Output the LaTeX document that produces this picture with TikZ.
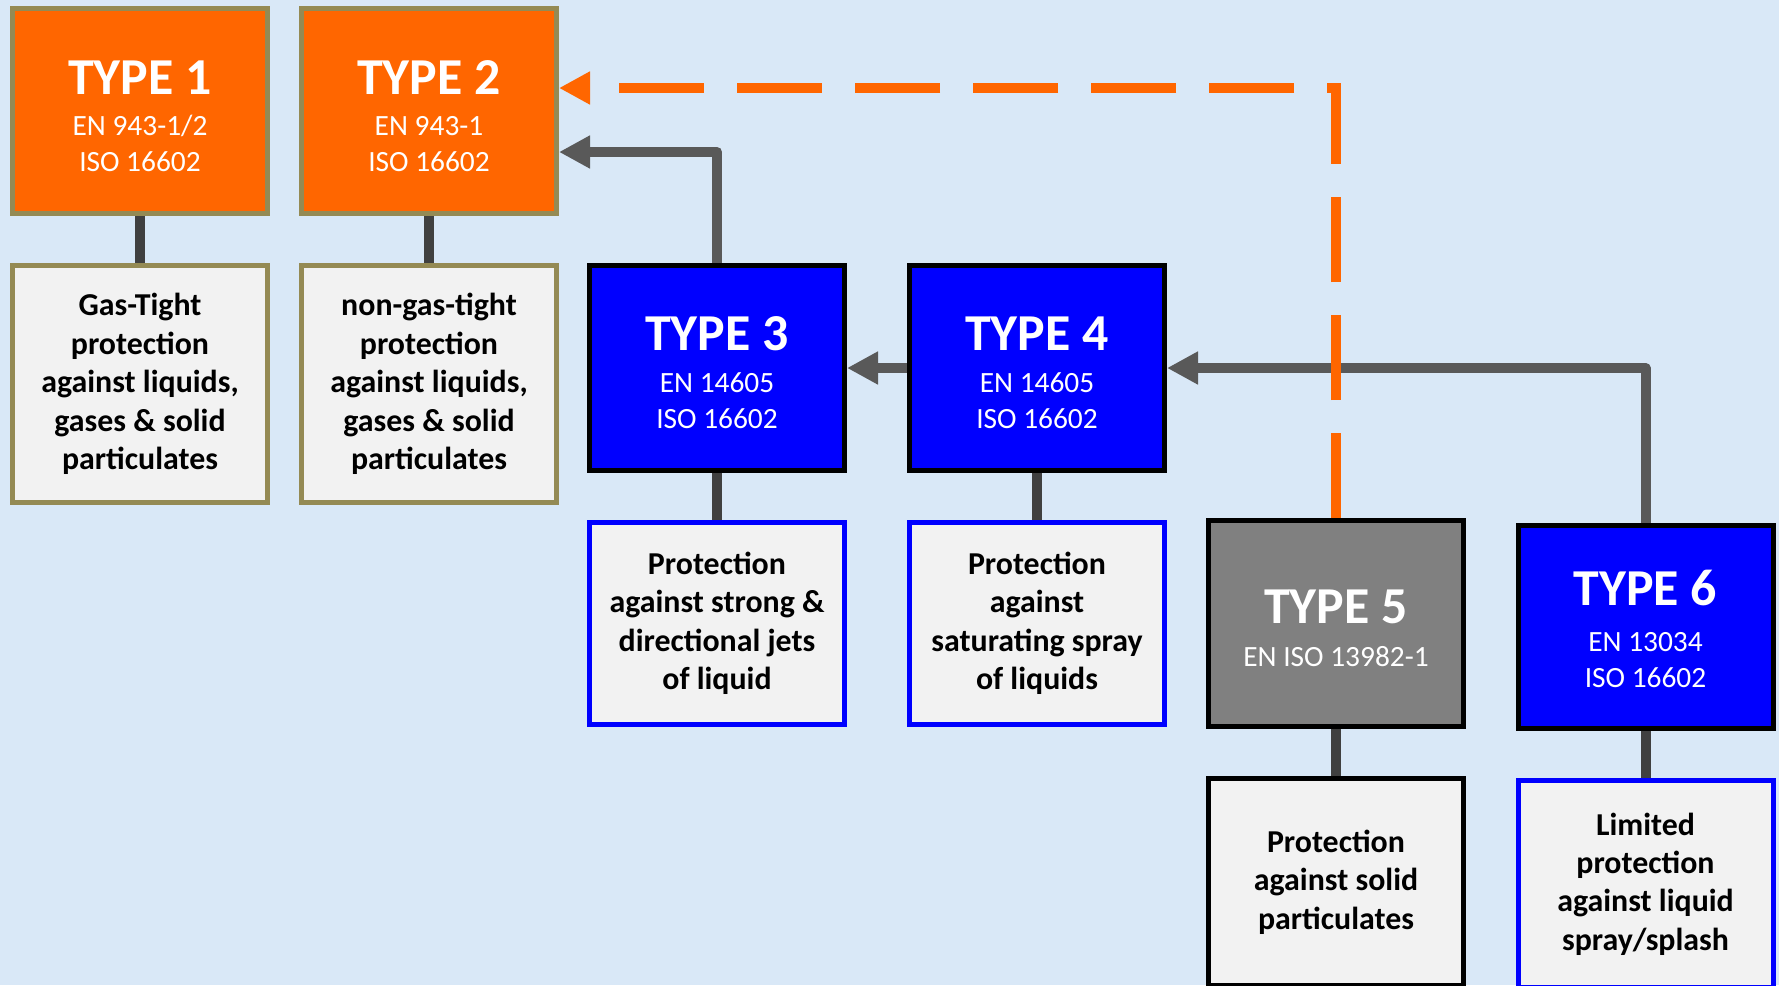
\documentclass[tikz,border=0pt]{standalone}
\usepackage{fontspec}
\setmainfont{Carlito}
\usetikzlibrary{arrows.meta}
\definecolor{bgblue}{RGB}{217,232,247}
\definecolor{orng}{RGB}{255,102,0}
\definecolor{khakiline}{RGB}{148,138,84}
\definecolor{pale}{RGB}{242,242,242}
\definecolor{conn}{RGB}{64,64,64}
\definecolor{arrgray}{RGB}{89,89,89}
\definecolor{tgray}{RGB}{128,128,128}
\definecolor{pureblue}{RGB}{0,0,255}
\begin{document}
\begin{tikzpicture}[x=1bp,y=-1bp,
  box/.style={rectangle, line width=5bp, inner sep=0pt, minimum width=255bp, align=center},
  orangebox/.style={box, fill=orng, draw=khakiline, minimum height=205bp},
  bluebox/.style={box, fill=pureblue, draw=black},
  graybox/.style={box, fill=tgray, draw=black},
  descbox/.style={box, fill=pale, font=\fontsize{32}{38.6}\selectfont\bfseries, text=black},
  ttl/.style={font=\fontsize{52}{60}\selectfont\bfseries, text=white, inner sep=0pt, text height=32.8bp, text depth=0pt},
  stdtxt/.style={font=\fontsize{29.5}{35}\selectfont, text=white, inner sep=0pt, text height=18.6bp, text depth=0pt},
  stem/.style={draw=conn, line width=10bp},
  garrow/.style={draw=arrgray, line width=10bp, line join=round, -{Triangle[length=31bp,width=31bp]}},
  oarrow/.style={draw=orng, line width=10bp, dash pattern=on 85bp off 33bp, -{Triangle[length=31bp,width=31bp]}}
]
\useasboundingbox (0,0) rectangle (1779,985);
\clip (0,0) rectangle (1779,985);
\fill[bgblue] (0,0) rectangle (1779,985);

% Type boxes
\node[orangebox] (t1) at (140,111) {};
\node[orangebox] (t2) at (429,111) {};
\node[bluebox, minimum height=205bp] (t3) at (717,368) {};
\node[bluebox, minimum height=205bp] (t4) at (1037,368) {};
\node[graybox, minimum height=206bp] (t5) at (1336,623.5) {};
\node[bluebox, minimum height=203bp] (t6) at (1645.5,627) {};

% Type texts
\node[ttl] (t1a) at (140,78) {TYPE 1};
\node[stdtxt] (t1b) at (140,126.5) {EN 943-1/2};
\node[stdtxt] (t1c) at (140,162.5) {ISO 16602};
\node[ttl] (t2a) at (429,78) {TYPE 2};
\node[stdtxt] (t2b) at (429,126.5) {EN 943-1};
\node[stdtxt] (t2c) at (429,162.5) {ISO 16602};
\node[ttl] (t3a) at (717,334) {TYPE 3};
\node[stdtxt] (t3b) at (717,383.5) {EN 14605};
\node[stdtxt] (t3c) at (717,419) {ISO 16602};
\node[ttl] (t4a) at (1037,334) {TYPE 4};
\node[stdtxt] (t4b) at (1037,383.5) {EN 14605};
\node[stdtxt] (t4c) at (1037,419) {ISO 16602};
\node[ttl] (t5a) at (1336,606.7) {TYPE 5};
\node[stdtxt] (t5b) at (1336,656.7) {EN ISO 13982-1};
\node[ttl] (t6a) at (1645.5,589) {TYPE 6};
\node[stdtxt] (t6b) at (1645.5,642) {EN 13034};
\node[stdtxt] (t6c) at (1645.5,678) {ISO 16602};

% Description boxes
\node[descbox, draw=khakiline, minimum height=237bp] (d1) at (140,384)
  {Gas-Tight\\protection\\against liquids,\\gases \& solid\\particulates};
\node[descbox, draw=khakiline, minimum height=237bp] (d2) at (429,384)
  {non-gas-tight\\protection\\against liquids,\\gases \& solid\\particulates};
\node[descbox, draw=pureblue, minimum height=202bp] (d3) at (717,623.5)
  {Protection\\against strong \&\\directional jets\\of liquid};
\node[descbox, draw=pureblue, minimum height=202bp] (d4) at (1037,623.5)
  {Protection\\against\\saturating spray\\of liquids};
\node[descbox, draw=black, minimum height=207bp] (d5) at (1336,882)
  {Protection\\against solid\\particulates};
\node[descbox, draw=pureblue, minimum height=207bp] (d6) at (1645.5,884)
  {Limited\\protection\\against liquid\\spray/splash};

% Stems
\draw[stem] (t1.south) -- (d1.north);
\draw[stem] (t2.south) -- (d2.north);
\draw[stem] (t3.south) -- (d3.north);
\draw[stem] (t4.south) -- (d4.north);
\draw[stem] (t5.south) -- (d5.north);
\draw[stem] (t6.south) -- (d6.north);

% Arrows
\draw[garrow] (t3.north) |- (t2.east |- 0,152);
\draw[garrow] (t4.west) -- (t3.east);
\draw[garrow] (t6.north) |- (t4.east);
\draw[oarrow] (t5.north) |- (t2.east |- 0,88);
\end{tikzpicture}
\end{document}
